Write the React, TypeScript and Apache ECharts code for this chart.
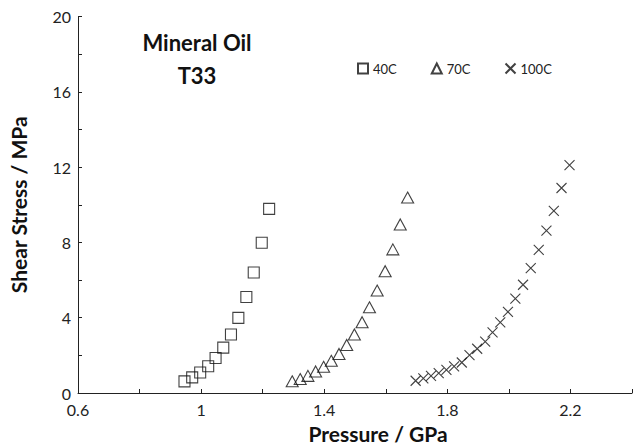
import React, { useEffect, useRef } from "react";
import * as echarts from "echarts";

const xTickValues = [0.6, 1, 1.4, 1.8, 2.2];
const yTickValues = [0, 4, 8, 12, 16, 20];

const p40 = [0.946, 0.971, 0.997, 1.023, 1.047, 1.072, 1.097, 1.121, 1.147, 1.171, 1.197, 1.221];
const s40 = [0.62, 0.83, 1.09, 1.42, 1.86, 2.41, 3.11, 3.99, 5.1, 6.4, 7.98, 9.78];

const p70 = [1.296, 1.322, 1.347, 1.372, 1.398, 1.423, 1.448, 1.473, 1.498, 1.523, 1.547, 1.572, 1.598, 1.623, 1.647, 1.671];
const s70 = [0.62, 0.74, 0.91, 1.14, 1.39, 1.71, 2.07, 2.55, 3.11, 3.76, 4.55, 5.44, 6.47, 7.63, 8.95, 10.38];

const p100 = [1.697, 1.722, 1.747, 1.772, 1.797, 1.822, 1.847, 1.872, 1.897, 1.923, 1.947, 1.972, 1.997, 2.021, 2.046, 2.071, 2.097, 2.122, 2.146, 2.171, 2.197];
const s100 = [0.65, 0.78, 0.91, 1.06, 1.23, 1.41, 1.62, 2.01, 2.35, 2.73, 3.22, 3.75, 4.31, 5.01, 5.75, 6.63, 7.6, 8.62, 9.67, 10.89, 12.11];

const seriesNames = ["40C", "70C", "100C"];

const FONT = "Lato";

function zip(a: number[], b: number[]) {
  return a.map((v, i) => [v, b[i]]);
}

export default function App() {
  const ref = useRef<HTMLDivElement>(null);
  useEffect(() => {
    if (!ref.current) return;
    const chart = echarts.init(ref.current, undefined, { renderer: "svg" });
    const markerStyle = {
      color: "rgba(0,0,0,0)",
      borderColor: "#111",
      borderWidth: 1.1,
    };
    chart.setOption({
      animation: false,
      backgroundColor: "#fff",
      textStyle: { fontFamily: FONT },
      grid: { left: 74, right: 4, top: 16.5, bottom: 55, containLabel: false },
      legend: {
        left: 352,
        top: 57,
        itemWidth: 10,
        itemHeight: 10,
        itemGap: 34,
        textStyle: { fontSize: 13, color: "#222", fontFamily: FONT },
        data: seriesNames,
      },
      xAxis: {
        type: "value",
        min: 0.6,
        max: 2.4,
        interval: 0.2,
        splitLine: { show: false },
        axisLine: { lineStyle: { color: "#222", width: 1 } },
        axisTick: { inside: true, length: 4, lineStyle: { color: "#222" } },
        axisLabel: {
          fontSize: 16,
          color: "#222",
          margin: 8,
          fontFamily: FONT,
          formatter: (v: number) => {
            const r = Math.round(v * 10) / 10;
            return xTickValues.some((t) => Math.abs(t - r) < 1e-6) ? String(r) : "";
          },
        },
      },
      yAxis: {
        type: "value",
        min: 0,
        max: 20,
        interval: 2,
        splitLine: { show: false },
        axisLine: { show: true, lineStyle: { color: "#222", width: 1 } },
        axisTick: { show: true, inside: true, length: 4, lineStyle: { color: "#222" } },
        axisLabel: {
          fontSize: 16,
          color: "#222",
          margin: 7,
          fontFamily: FONT,
          formatter: (v: number) => {
            const r = Math.round(v);
            return yTickValues.includes(r) ? String(r) : "";
          },
        },
        name: "Shear Stress / MPa",
        nameLocation: "middle",
        nameGap: 49,
        nameTextStyle: { fontSize: 21, fontWeight: "bold", color: "#111", fontFamily: FONT },
      },
      graphic: [
        {
          type: "text",
          x: 197,
          y: 42,
          style: {
            text: "Mineral Oil",
            fontSize: 22,
            fontWeight: "bold",
            fontFamily: FONT,
            fill: "#111",
            align: "center",
            verticalAlign: "middle",
          },
        },
        {
          type: "text",
          x: 197,
          y: 75,
          style: {
            text: "T33",
            fontSize: 22,
            fontWeight: "bold",
            fontFamily: FONT,
            fill: "#111",
            align: "center",
            verticalAlign: "middle",
          },
        },
        {
          type: "text",
          x: 378,
          y: 433,
          style: {
            text: "Pressure / GPa",
            fontSize: 21,
            fontWeight: "bold",
            fontFamily: FONT,
            fill: "#111",
            align: "center",
            verticalAlign: "middle",
          },
        },
      ],
      series: [
        {
          name: seriesNames[0],
          type: "scatter",
          symbol: "rect",
          symbolSize: 11,
          itemStyle: markerStyle,
          data: zip(p40, s40),
        },
        {
          name: seriesNames[1],
          type: "scatter",
          symbol: "triangle",
          symbolSize: [12, 11],
          itemStyle: markerStyle,
          data: zip(p70, s70),
        },
        {
          name: seriesNames[2],
          type: "scatter",
          symbol: "path://M0,0L10,10M10,0L0,10",
          symbolSize: 10,
          itemStyle: markerStyle,
          data: zip(p100, s100),
        },
      ],
    });
    return () => chart.dispose();
  }, []);
  return (
    <div
      ref={ref}
      style={{ position: "absolute", left: 0, top: 0, width: 636, height: 448 }}
    />
  );
}
